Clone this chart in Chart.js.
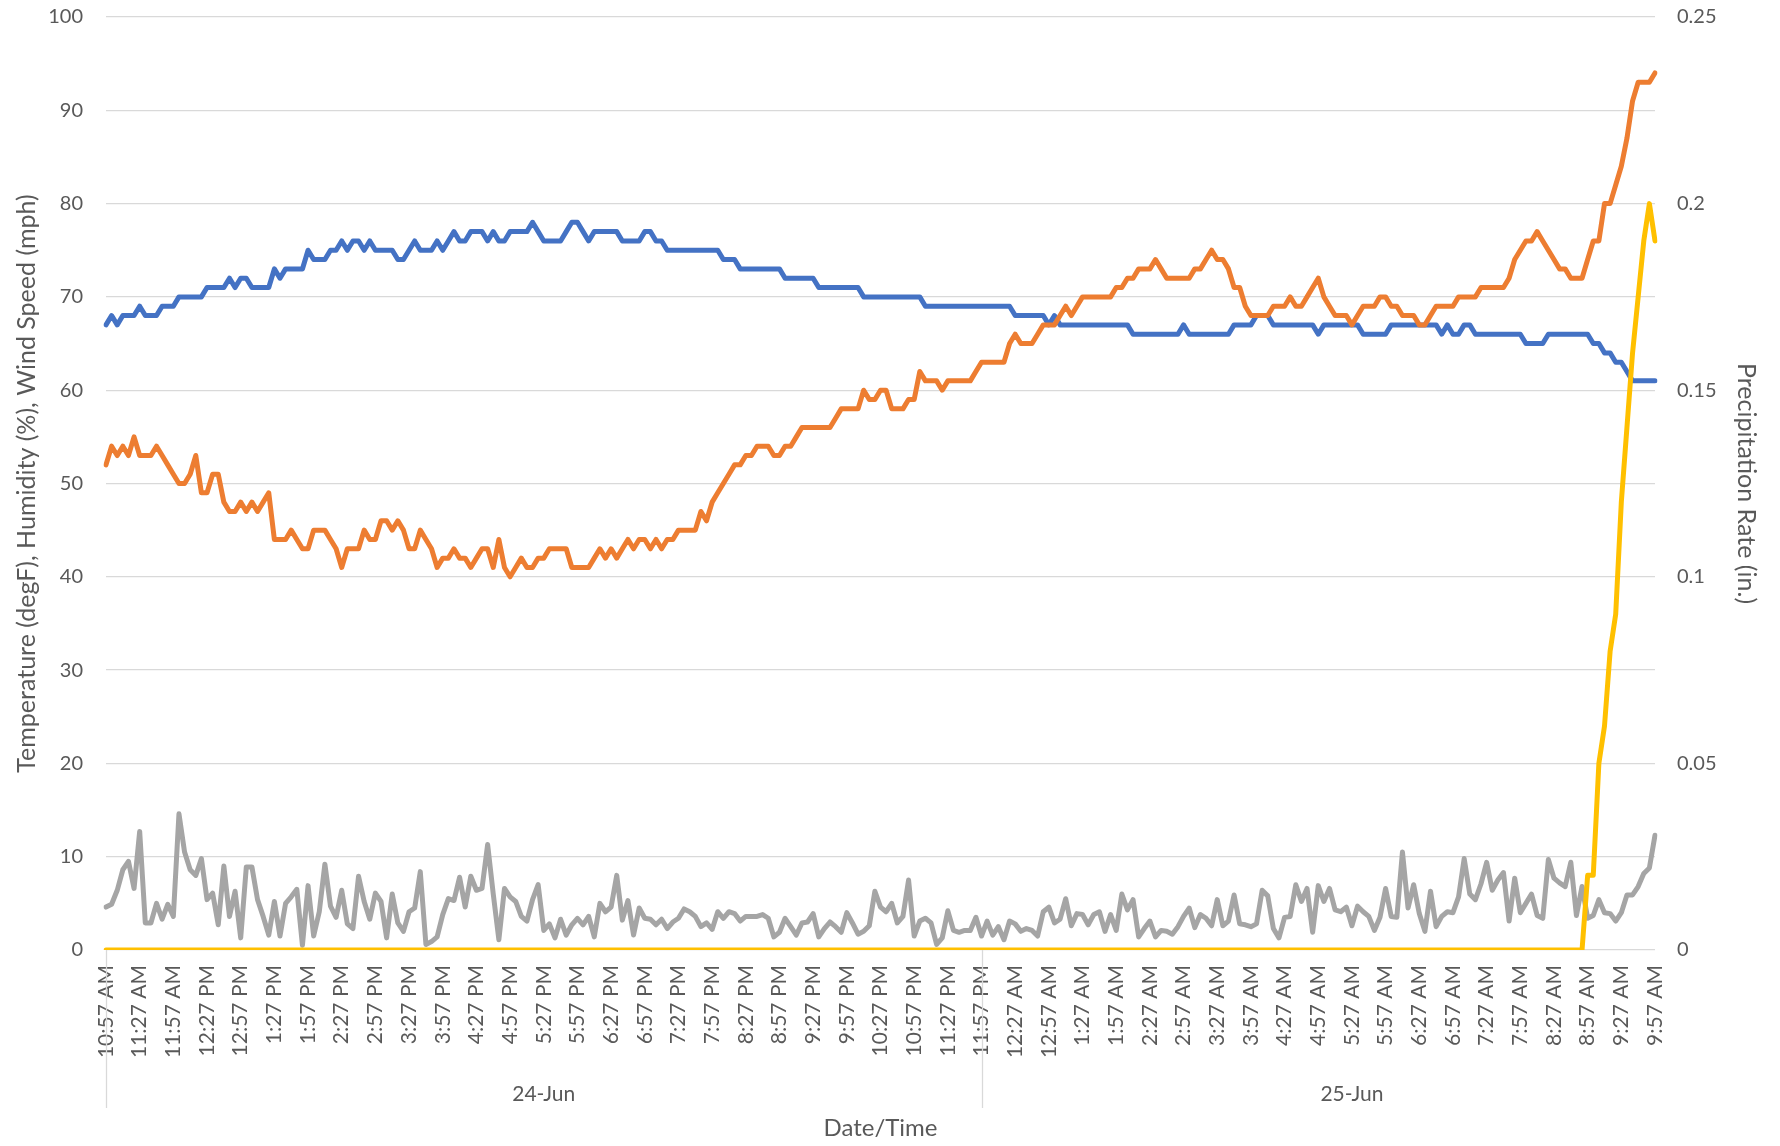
<!DOCTYPE html>
<html>
<head>
<meta charset="utf-8">
<title>Weather 24-25 Jun</title>
<script src="https://cdn.jsdelivr.net/npm/chart.js@4.4.0/dist/chart.umd.min.js"></script>
<style>
  html, body { margin: 0; padding: 0; background: #fff; }
  #wrap { width: 1780px; height: 1146px; position: relative; }
</style>
</head>
<body>
<div id="wrap"><canvas id="weatherChart"></canvas></div>
<script>
// readings every 5 minutes, 10:57 AM 24-Jun to 9:57 AM 25-Jun
const startHour = 10, startMinute = 57, stepMinutes = 5, pointCount = 277;

// day groups under the time labels: name + slot range
const dayNames = ["24-Jun", "25-Jun"];
const daySpans = [[0, 156], [156, 288]];

const temperature = [
  67,68,67,68,68,68,69,68,68,68,
  69,69,69,70,70,70,70,70,71,71,
  71,71,72,71,72,72,71,71,71,71,
  73,72,73,73,73,73,75,74,74,74,
  75,75,76,75,76,76,75,76,75,75,
  75,75,74,74,75,76,75,75,75,76,
  75,76,77,76,76,77,77,77,76,77,
  76,76,77,77,77,77,78,77,76,76,
  76,76,77,78,78,77,76,77,77,77,
  77,77,76,76,76,76,77,77,76,76,
  75,75,75,75,75,75,75,75,75,75,
  74,74,74,73,73,73,73,73,73,73,
  73,72,72,72,72,72,72,71,71,71,
  71,71,71,71,71,70,70,70,70,70,
  70,70,70,70,70,70,69,69,69,69,
  69,69,69,69,69,69,69,69,69,69,
  69,69,68,68,68,68,68,68,67,68,
  67,67,67,67,67,67,67,67,67,67,
  67,67,67,66,66,66,66,66,66,66,
  66,66,67,66,66,66,66,66,66,66,
  66,67,67,67,67,68,68,68,67,67,
  67,67,67,67,67,67,66,67,67,67,
  67,67,67,67,66,66,66,66,66,67,
  67,67,67,67,67,67,67,67,66,67,
  66,66,67,67,66,66,66,66,66,66,
  66,66,66,65,65,65,65,66,66,66,
  66,66,66,66,66,65,65,64,64,63,
  63,62,61,61,61,61,61
];

const humidity = [
  52,54,53,54,53,55,53,53,53,54,
  53,52,51,50,50,51,53,49,49,51,
  51,48,47,47,48,47,48,47,48,49,
  44,44,44,45,44,43,43,45,45,45,
  44,43,41,43,43,43,45,44,44,46,
  46,45,46,45,43,43,45,44,43,41,
  42,42,43,42,42,41,42,43,43,41,
  44,41,40,41,42,41,41,42,42,43,
  43,43,43,41,41,41,41,42,43,42,
  43,42,43,44,43,44,44,43,44,43,
  44,44,45,45,45,45,47,46,48,49,
  50,51,52,52,53,53,54,54,54,53,
  53,54,54,55,56,56,56,56,56,56,
  57,58,58,58,58,60,59,59,60,60,
  58,58,58,59,59,62,61,61,61,60,
  61,61,61,61,61,62,63,63,63,63,
  63,65,66,65,65,65,66,67,67,67,
  68,69,68,69,70,70,70,70,70,70,
  71,71,72,72,73,73,73,74,73,72,
  72,72,72,72,73,73,74,75,74,74,
  73,71,71,69,68,68,68,68,69,69,
  69,70,69,69,70,71,72,70,69,68,
  68,68,67,68,69,69,69,70,70,69,
  69,68,68,68,67,67,68,69,69,69,
  69,70,70,70,70,71,71,71,71,71,
  72,74,75,76,76,77,76,75,74,73,
  73,72,72,72,74,76,76,80,80,82,
  84,87,91,93,93,93,94
];

const windSpeed = [
  4.6,4.9,6.4,8.6,9.5,6.6,12.7,2.9,2.9,5.0,
  3.3,4.9,3.6,14.6,10.5,8.6,8.0,9.8,5.4,6.1,
  2.7,9.0,3.6,6.3,1.3,8.9,8.9,5.4,3.6,1.6,
  5.2,1.5,5.0,5.7,6.5,0.5,6.9,1.5,4.1,9.2,
  4.7,3.5,6.4,2.8,2.3,7.9,5.2,3.3,6.1,5.2,
  1.3,6.0,2.9,2.0,4.1,4.5,8.4,0.6,0.9,1.4,
  3.8,5.5,5.3,7.8,4.6,7.9,6.4,6.6,11.3,6.0,
  1.1,6.6,5.7,5.2,3.6,3.1,5.4,7.0,2.1,2.8,
  1.3,3.3,1.6,2.7,3.4,2.7,3.6,1.4,5.0,4.1,
  4.6,8.0,3.2,5.3,1.6,4.5,3.4,3.3,2.7,3.3,
  2.3,3.0,3.4,4.4,4.1,3.6,2.5,2.9,2.2,4.1,
  3.4,4.1,3.9,3.1,3.6,3.6,3.6,3.8,3.4,1.4,
  1.9,3.4,2.5,1.6,2.9,3.0,3.9,1.4,2.3,3.0,
  2.5,1.9,4.0,2.9,1.7,2.0,2.6,6.3,4.6,4.1,
  5.0,2.9,3.6,7.5,1.5,3.1,3.4,2.9,0.6,1.3,
  4.2,2.1,1.9,2.1,2.1,3.5,1.5,3.1,1.6,2.5,
  1.1,3.1,2.8,2.0,2.3,2.1,1.5,4.1,4.6,2.9,
  3.3,5.5,2.6,3.9,3.8,2.7,3.8,4.1,2.0,3.8,
  2.1,6.0,4.3,5.4,1.4,2.3,3.1,1.4,2.1,2.0,
  1.7,2.5,3.6,4.5,2.4,3.8,3.4,2.6,5.4,2.6,
  3.1,5.9,2.8,2.7,2.5,2.8,6.4,5.8,2.3,1.3,
  3.5,3.6,7.0,5.2,6.6,1.9,6.9,5.2,6.6,4.3,
  4.1,4.6,2.6,4.7,4.1,3.6,2.1,3.5,6.6,3.6,
  3.5,10.5,4.5,7.0,3.9,2.0,6.3,2.5,3.6,4.1,
  4.0,5.7,9.8,6.0,5.4,7.1,9.4,6.4,7.5,8.3,
  3.1,7.7,4.0,5.0,6.0,3.7,3.4,9.7,7.7,7.2,
  6.8,9.4,3.7,6.8,3.4,3.7,5.4,4.0,3.9,3.1,
  4.0,5.9,5.9,6.8,8.2,8.8,12.3
];

const precipRate = [
  0,0,0,0,0,0,0,0,0,0,0,0,0,0,0,0,0,0,0,0,
  0,0,0,0,0,0,0,0,0,0,0,0,0,0,0,0,0,0,0,0,
  0,0,0,0,0,0,0,0,0,0,0,0,0,0,0,0,0,0,0,0,
  0,0,0,0,0,0,0,0,0,0,0,0,0,0,0,0,0,0,0,0,
  0,0,0,0,0,0,0,0,0,0,0,0,0,0,0,0,0,0,0,0,
  0,0,0,0,0,0,0,0,0,0,0,0,0,0,0,0,0,0,0,0,
  0,0,0,0,0,0,0,0,0,0,0,0,0,0,0,0,0,0,0,0,
  0,0,0,0,0,0,0,0,0,0,0,0,0,0,0,0,0,0,0,0,
  0,0,0,0,0,0,0,0,0,0,0,0,0,0,0,0,0,0,0,0,
  0,0,0,0,0,0,0,0,0,0,0,0,0,0,0,0,0,0,0,0,
  0,0,0,0,0,0,0,0,0,0,0,0,0,0,0,0,0,0,0,0,
  0,0,0,0,0,0,0,0,0,0,0,0,0,0,0,0,0,0,0,0,
  0,0,0,0,0,0,0,0,0,0,0,0,0,0,0,0,0,0,0,0,
  0,0,0,0,
  0.02,0.02,0.05,0.06,0.08,0.09,0.12,0.14,0.16,0.175,0.19,0.2,0.19
];

// time labels (h:mm AM/PM)
const timeLabels = [];
for (let k = 0; k < pointCount; k++) {
  const total = startHour * 60 + startMinute + k * stepMinutes;
  const h24 = Math.floor(total / 60) % 24;
  const m = total % 60;
  const h12 = h24 % 12 === 0 ? 12 : h24 % 12;
  timeLabels.push(h12 + ":" + String(m).padStart(2, "0") + " " + (h24 < 12 ? "AM" : "PM"));
}

const FONT = 'Lato, "Open Sans", sans-serif';
const TEXT = "#595959";
const GRID = "#D9D9D9";

const dayDividers = {
  id: "dayDividers",
  afterDraw(chart) {
    const { ctx } = chart;
    const x = chart.scales.x;
    const top = x.top;
    ctx.save();
    ctx.strokeStyle = GRID;
    ctx.lineWidth = 1.3;
    daySpans.forEach(span => {
      const px = Math.round(x.getPixelForValue(span[0])) + 0.5;
      ctx.beginPath();
      ctx.moveTo(px, top);
      ctx.lineTo(px, top + 158);
      ctx.stroke();
    });
    ctx.fillStyle = TEXT;
    ctx.font = "21px " + FONT;
    ctx.textAlign = "center";
    ctx.textBaseline = "middle";
    dayNames.forEach((name, k) => {
      const cx = (x.getPixelForValue(daySpans[k][0]) + x.getPixelForValue(daySpans[k][1])) / 2;
      ctx.fillText(name, cx, top + 144);
    });
    ctx.restore();
  }
};

const line = (label, data, color, axis, order) => ({
  label, data, yAxisID: axis, order,
  borderColor: color, backgroundColor: color,
  borderWidth: 5, pointRadius: 0, tension: 0,
  borderJoinStyle: "round", borderCapStyle: "round", fill: false
});

// keep the plot top fixed (ticks padding would otherwise push it down)
const fitSide = w => s => { s.width = w; s.paddingTop = 17; s.paddingBottom = 0; };

new Chart(document.getElementById("weatherChart"), {
  type: "line",
  data: {
    labels: timeLabels,
    datasets: [
      line("Temperature (degF)", temperature, "#4472C4", "y", 4),
      line("Humidity (%)", humidity, "#ED7D31", "y", 3),
      line("Wind Speed (mph)", windSpeed, "#A5A5A5", "y", 2),
      line("Precipitation Rate (in.)", precipRate, "#FFC000", "y1", 1)
    ]
  },
  options: {
    responsive: true,
    maintainAspectRatio: false,
    animation: false,
    devicePixelRatio: 1,
    layout: { padding: 0 },
    plugins: { legend: { display: false }, tooltip: { enabled: false } },
    scales: {
      x: {
        offset: false,
        grid: { display: false, drawTicks: false },
        border: { display: false },
        ticks: {
          autoSkip: false, minRotation: 90, maxRotation: 90, padding: 15,
          color: TEXT, font: { family: FONT, size: 21 },
          callback: (v, i) => (i % 6 === 0 ? timeLabels[i] : null)
        },
        title: {
          display: true, text: "Date/Time", color: TEXT,
          font: { family: FONT, size: 24 }, padding: { top: 0, bottom: 3 }
        },
        afterFit: s => { s.height = 196; }
      },
      y: {
        position: "left", min: 0, max: 100,
        grid: { color: GRID, lineWidth: 1.3, drawTicks: false },
        border: { display: false },
        ticks: { stepSize: 10, padding: 23, color: TEXT, font: { family: FONT, size: 20 } },
        title: {
          display: true, text: "Temperature (degF), Humidity (%), Wind Speed (mph)",
          color: TEXT, font: { family: FONT, size: 25 }, padding: { top: 12, bottom: 0 }
        },
        afterFit: fitSide(106)
      },
      y1: {
        position: "right", min: 0, max: 0.25,
        grid: { display: false, drawTicks: false },
        border: { display: false },
        ticks: {
          stepSize: 0.05, padding: 22, color: TEXT, font: { family: FONT, size: 20 },
          callback: v => String(Number(v.toFixed(2)))
        },
        title: {
          display: true, text: "Precipitation Rate (in.)",
          color: TEXT, font: { family: FONT, size: 25 }, padding: { top: 19, bottom: 0 }
        },
        afterFit: fitSide(125)
      }
    }
  },
  plugins: [dayDividers]
});
</script>
</body>
</html>
